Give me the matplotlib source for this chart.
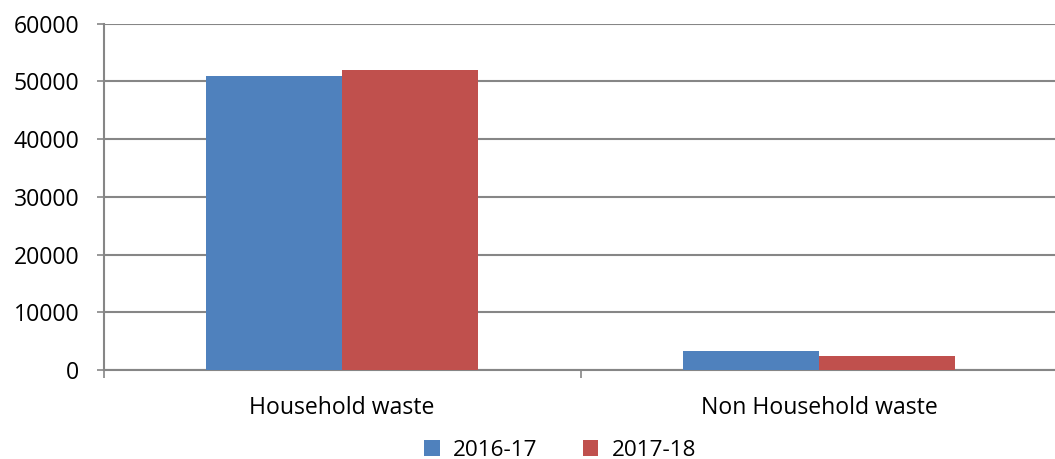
import matplotlib
matplotlib.use("Agg")
import matplotlib.pyplot as plt
import numpy as np

plt.rcParams["font.family"] = ["Open Sans", "DejaVu Sans"]

categories = ["Household waste", "Non Household waste"]
years = ["2016-17", "2017-18"]
vals_1617 = [50900, 3300]
vals_1718 = [51900, 2500]
yticks = [0, 10000, 20000, 30000, 40000, 50000, 60000]

W, H = 1055, 459
fig = plt.figure(figsize=(W / 100, H / 100), dpi=100)
ax = fig.add_axes([103.5 / W, 1 - 370 / H, (1058 - 103.5) / W, (370 - 23.7) / H])

x = np.arange(len(categories))
bw = 0.285
ax.bar(x - bw / 2, vals_1617, bw, color="#4F81BD", label=years[0], zorder=3)
ax.bar(x + bw / 2, vals_1718, bw, color="#C0504D", label=years[1], zorder=3)

ax.set_xlim(-0.5, len(categories) - 0.5)
ax.set_ylim(0, 60000)
ax.set_yticks(yticks)
ax.set_yticklabels([str(v) for v in yticks])
ax.grid(axis="y", color="#868686", lw=1.5, zorder=0)

# category labels at centers, tick marks at boundaries
ax.set_xticks(x)
ax.set_xticklabels(categories)
ax.set_xticks(np.arange(len(categories) + 1) - 0.5, minor=True)
ax.tick_params(axis="x", which="major", length=0, pad=18.5, labelsize=16.6)
ax.tick_params(axis="x", which="minor", length=6, width=1.2, color="#868686")
ax.tick_params(axis="y", length=5, width=1.2, color="#868686", pad=12.5, labelsize=16.6)

for s in ["top", "right"]:
    ax.spines[s].set_visible(False)
for s in ["left", "bottom"]:
    ax.spines[s].set_color("#868686")
    ax.spines[s].set_linewidth(1.5)

fig.legend(loc="center", bbox_to_anchor=(560 / W, 1 - 450 / H), ncol=2,
           frameon=False, fontsize=16.2, handlelength=0.7, handleheight=0.7,
           columnspacing=2.0, handletextpad=0.6)

fig.savefig("out.png", dpi=100)
